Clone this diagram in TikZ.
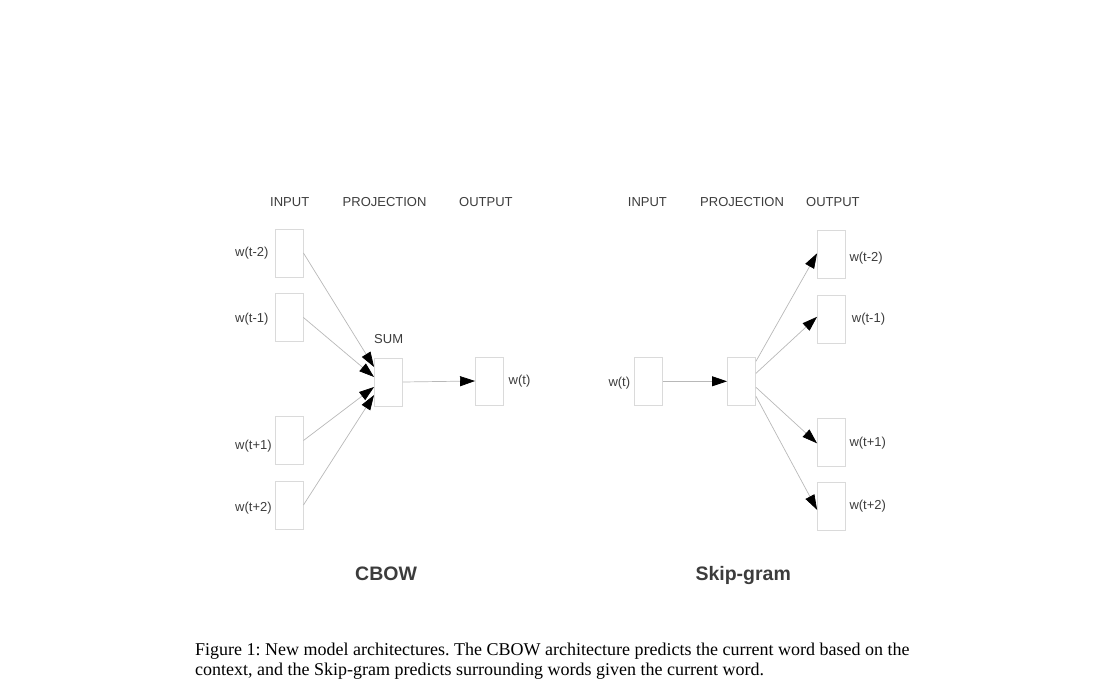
\documentclass[tikz,border=0pt]{standalone}
\usepackage{fontspec}
\setmainfont{Liberation Sans}
\newfontfamily\capfont{Liberation Serif}
\usetikzlibrary{arrows.meta}
\definecolor{boxgray}{HTML}{DADADA}
\definecolor{linegray}{HTML}{B8B8B8}
\definecolor{txtgray}{HTML}{3C3C3C}
\begin{document}
\frenchspacing
\begin{tikzpicture}[x=1pt,y=-1pt,
  vec/.style={draw=boxgray,line width=0.9pt,minimum width=28pt,minimum height=48pt,inner sep=0pt},
  conn/.style={draw=linegray,line width=0.7pt,-{Triangle[length=15pt,width=10pt,fill=black,color=black]}},
  lbl/.style={anchor=base west,inner sep=0pt,text=txtgray,font=\fontsize{13}{15}\selectfont},
  ttl/.style={anchor=base west,inner sep=0pt,text=txtgray,font=\fontsize{19.5}{22}\selectfont\bfseries}]
\useasboundingbox (0,0) rectangle (1105,698);
% ---------- CBOW ----------
\node[lbl] (hin1) at (270,206) {INPUT};
\node[lbl] (hpr1) at (342.5,206) {PROJECTION};
\node[lbl] (hout1) at (459,206) {OUTPUT};
\node[vec] (a1) at (289,253) {};
\node[vec] (a2) at (289,317.5) {};
\node[vec] (a3) at (289,440.5) {};
\node[vec] (a4) at (289,505) {};
\node[vec] (ap) at (388.5,382) {};
\node[vec] (ao) at (489.5,381) {};
\node[lbl] (la1) at (235,256.5) {w(t-2)};
\node[lbl] (la2) at (235,322) {w(t-1)};
\node[lbl] (la3) at (235,449) {w(t+1)};
\node[lbl] (la4) at (235,511) {w(t+2)};
\node[lbl] (lsum) at (374,343.3) {SUM};
\node[lbl] (lao) at (508.5,384.5) {w(t)};
\draw[conn] (a1.east) -- ([yshift=15pt]ap.west);
\draw[conn] (a2.east) -- ([yshift=5pt]ap.west);
\draw[conn] (a3.east) -- ([yshift=-5pt]ap.west);
\draw[conn] (a4.east) -- ([yshift=-13pt]ap.west);
\draw[conn] (ap.east) -- (ao.west);
\node[ttl] (tcbow) at (355,580) {CBOW};
% ---------- Skip-gram ----------
\node[lbl] (hin2) at (627.7,206) {INPUT};
\node[lbl] (hpr2) at (700,206) {PROJECTION};
\node[lbl] (hout2) at (806,206) {OUTPUT};
\node[vec] (si) at (648.5,381.3) {};
\node[vec] (sp) at (741.5,381.3) {};
\node[vec] (s1) at (831.5,254.8) {};
\node[vec] (s2) at (831.5,319.3) {};
\node[vec] (s3) at (831.5,442.3) {};
\node[vec] (s4) at (831.5,506.3) {};
\node[lbl] (lsi) at (608.3,386) {w(t)};
\node[lbl] (ls1) at (849.3,261) {w(t-2)};
\node[lbl] (ls2) at (851.7,322.5) {w(t-1)};
\node[lbl] (ls3) at (849.3,446) {w(t+1)};
\node[lbl] (ls4) at (849.3,509) {w(t+2)};
\draw[conn] (si.east) -- (sp.west);
\draw[conn] ([yshift=20pt]sp.east) -- ([yshift=1.5pt]s1.west);
\draw[conn] ([yshift=8pt]sp.east) -- ([yshift=2.5pt]s2.west);
\draw[conn] ([yshift=-6pt]sp.east) -- ([yshift=-1pt]s3.west);
\draw[conn] ([yshift=-15pt]sp.east) -- ([yshift=-3.5pt]s4.west);
\node[ttl] (tskip) at (695.3,580) {Skip-gram};
% ---------- caption ----------
\node[anchor=base west,inner sep=0pt,align=left,font=\capfont\fontsize{18}{20}\selectfont] (cap) at (195,675)
 {Figure 1: New model architectures. The CBOW architecture predicts the current word based on the\\
  context, and the Skip-gram predicts surrounding words given the current word.};
\end{tikzpicture}
\end{document}
